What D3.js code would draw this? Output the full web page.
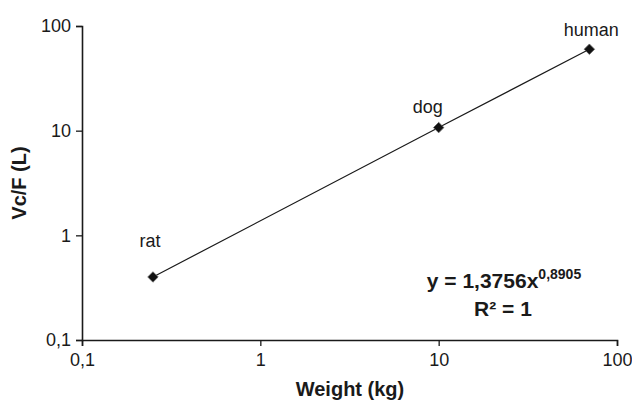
<!DOCTYPE html>
<html>
<head>
<meta charset="utf-8">
<script src="https://cdn.jsdelivr.net/npm/d3@7"></script>
<style>
  body { margin: 0; background: #fff; }
  svg text { font-family: "Liberation Sans", Arial, sans-serif; fill: #1a1a1a; }
</style>
</head>
<body>
<svg id="chart" width="632" height="402"></svg>
<script>
// species, body weight (kg) and Vc/F (L)
const species = ['rat', 'dog', 'human'];
const weights = [0.25, 10, 70];
const vcf = [0.4, 10.7, 60];
const tickValues = [0.1, 1, 10, 100];
const tickLabels = ['0,1', '1', '10', '100'];

const svg = d3.select('#chart'),
  margin = {top: 26, right: 15, bottom: 62, left: 82},
  width = +svg.attr('width') - margin.left - margin.right,
  height = +svg.attr('height') - margin.top - margin.bottom;

const x = d3.scaleLog().domain([0.1, 100]).range([0, width]),
  y = d3.scaleLog().domain([0.1, 100]).range([height, 0]);

const g = svg.append('g')
  .attr('transform', 'translate(' + margin.left + ',' + margin.top + ')');

const fmt = d => tickLabels[tickValues.indexOf(d)];

const xAxis = g.append('g')
  .attr('transform', 'translate(0,' + height + ')')
  .call(d3.axisBottom(x).tickValues(tickValues).tickFormat(fmt).tickSize(6).tickPadding(7));

const yAxis = g.append('g')
  .call(d3.axisLeft(y).tickValues(tickValues).tickFormat(fmt).tickSize(6).tickPadding(5));

[xAxis, yAxis].forEach(a => {
  a.select('.domain').attr('stroke', '#1a1a1a').attr('stroke-width', 1.6);
  a.selectAll('.tick line').attr('stroke', '#1a1a1a').attr('stroke-width', 1.3);
  a.selectAll('.tick text').attr('font-size', 18).attr('fill', '#1a1a1a')
    .style('font-family', '"Liberation Sans", Arial, sans-serif');
});

const pts = species.map((s, i) => ({name: s, w: weights[i], v: vcf[i]}));

g.append('path')
  .datum(pts)
  .attr('fill', 'none')
  .attr('stroke', '#1a1a1a')
  .attr('stroke-width', 1.2)
  .attr('d', d3.line().x(d => x(d.w)).y(d => y(d.v)));

g.selectAll('.pt')
  .data(pts)
  .enter().append('path')
    .attr('class', 'pt')
    .attr('transform', d => 'translate(' + x(d.w) + ',' + y(d.v) + ')')
    .attr('d', d3.symbol().type(d3.symbolDiamond2).size(70))
    .attr('fill', '#111')
    .attr('stroke', '#666')
    .attr('stroke-width', 0.8);

// label placement relative to each point (dx, dy)
const labelShift = {rat: [-3, -30], dog: [-11, -15], human: [2, -13]};

g.selectAll('.lbl')
  .data(pts)
  .enter().append('text')
    .attr('class', 'lbl')
    .attr('x', d => x(d.w) + labelShift[d.name][0])
    .attr('y', d => y(d.v) + labelShift[d.name][1])
    .attr('text-anchor', 'middle')
    .attr('font-size', 18)
    .text(d => d.name);

// regression equation
const eq = svg.append('text')
  .attr('x', 504).attr('y', 288)
  .attr('text-anchor', 'middle')
  .attr('font-size', 21).attr('font-weight', 'bold');
eq.append('tspan').text('y = 1,3756x');
eq.append('tspan').attr('dy', -9).attr('font-size', 14).text('0,8905');

svg.append('text')
  .attr('x', 503).attr('y', 316)
  .attr('text-anchor', 'middle')
  .attr('font-size', 21).attr('font-weight', 'bold')
  .text('R² = 1');

svg.append('text')
  .attr('x', 350).attr('y', 396)
  .attr('text-anchor', 'middle')
  .attr('font-size', 20).attr('font-weight', 'bold')
  .text('Weight (kg)');

svg.append('text')
  .attr('transform', 'translate(26,183) rotate(-90)')
  .attr('text-anchor', 'middle')
  .attr('font-size', 20).attr('font-weight', 'bold')
  .text('Vc/F (L)');
</script>
</body>
</html>
